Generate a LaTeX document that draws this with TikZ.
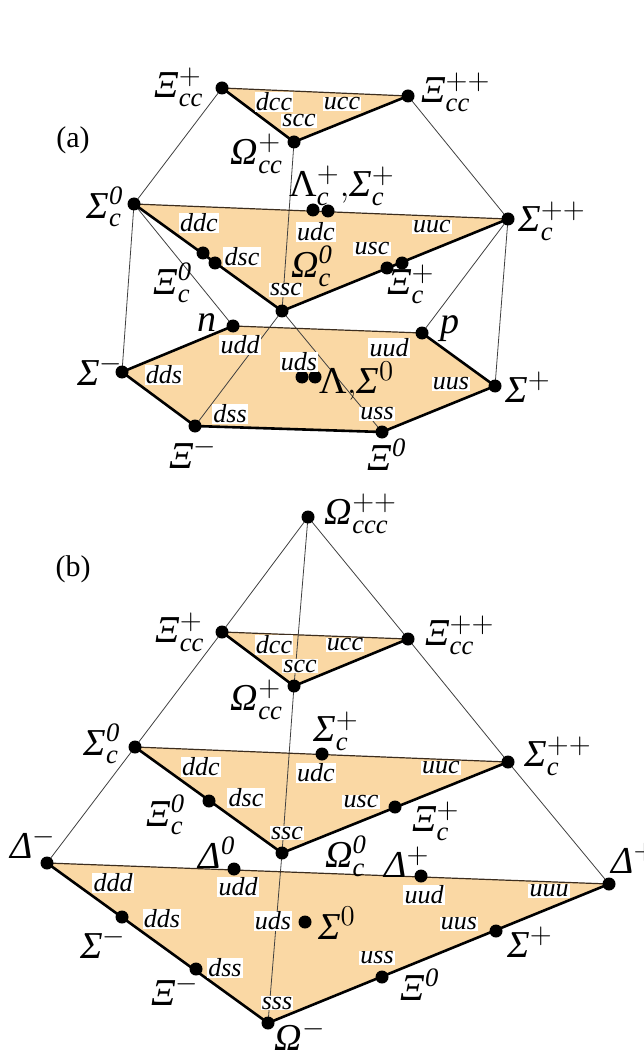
\documentclass[tikz,border=0pt]{standalone}
\usepackage{amsmath}
\usepackage{fontspec}
\setmainfont{Liberation Serif}
\definecolor{facec}{RGB}{250,216,164}
\definecolor{edgec}{RGB}{60,45,30}
\tikzset{
  dot/.style={circle,fill=black,inner sep=0pt,minimum size=6.5pt},
  thinl/.style={line width=0.4pt,draw=black!75},
  topl/.style={line width=0.6pt,draw=edgec},
  thickl/.style={line width=1.3pt,draw=black,line join=round},
  face/.style={fill=facec},
  qlab/.style={fill=white,inner sep=0.6pt,font=\fontsize{13}{14}\selectfont\itshape},
  plab/.style={inner sep=0pt,font=\fontsize{19}{21}\selectfont},
  tag/.style={inner sep=0pt,font=\fontsize{15}{17}\selectfont},
}
\begin{document}
\begin{tikzpicture}[x=0.5pt,y=-0.5pt]
\useasboundingbox (0,0) rectangle (643,1053);
% ---------------- (a) coordinates
\coordinate (a-Xcc1) at (222,88);
\coordinate (a-Xcc2) at (408,96);
\coordinate (a-Occ) at (294,142);
\coordinate (a-Sc0) at (134,204);
\coordinate (a-Sc2) at (508,219);
\coordinate (a-Oc) at (282,311);
\coordinate (a-LcA) at (313,210);
\coordinate (a-LcB) at (328,211);
\coordinate (a-Xc0A) at (203,253);
\coordinate (a-Xc0B) at (215,263);
\coordinate (a-XcpA) at (387,268);
\coordinate (a-XcpB) at (402,263);
\coordinate (a-n) at (233,326);
\coordinate (a-p) at (422,333);
\coordinate (a-Sp) at (495,386);
\coordinate (a-X0) at (382,432);
\coordinate (a-Xm) at (195,426);
\coordinate (a-Sm) at (122,372);
\coordinate (a-LSA) at (302,377);
\coordinate (a-LSB) at (315,377);
% ---------------- (b) coordinates
\coordinate (b-Occc) at (308,517);
\coordinate (b-Xcc1) at (222,632);
\coordinate (b-Xcc2) at (408,639);
\coordinate (b-Occ) at (294,686);
\coordinate (b-Sc0) at (135,747);
\coordinate (b-Sc2) at (508,762);
\coordinate (b-Scp) at (322,754);
\coordinate (b-Oc) at (282,853);
\coordinate (b-Xc0) at (209,801);
\coordinate (b-Xcp) at (395,807);
\coordinate (b-Dm) at (47,863);
\coordinate (b-D0) at (234,869);
\coordinate (b-Dp) at (421,876);
\coordinate (b-Dpp) at (609,884);
\coordinate (b-Sm) at (122,917);
\coordinate (b-Xm) at (196,969);
\coordinate (b-Om) at (268,1023);
\coordinate (b-X0) at (382,977);
\coordinate (b-Sp) at (496,931);
\coordinate (b-S0) at (305,922);
% ---------------- faces
\fill[face] (a-Xcc1) -- (a-Xcc2) -- (a-Occ) -- cycle;
\fill[face] (a-Sc0) -- (a-Sc2) -- (a-Oc) -- cycle;
\fill[face] (a-n) -- (a-p) -- (a-Sp) -- (a-X0) -- (a-Xm) -- (a-Sm) -- cycle;
\fill[face] (b-Xcc1) -- (b-Xcc2) -- (b-Occ) -- cycle;
\fill[face] (b-Sc0) -- (b-Sc2) -- (b-Oc) -- cycle;
\fill[face] (b-Dm) -- (b-Dpp) -- (b-Om) -- cycle;
% ---------------- thin connectors
\draw[thinl] (a-Xcc1) -- (a-Sc0);
\draw[thinl] (a-Xcc2) -- (a-Sc2);
\draw[thinl] (a-Occ) -- (a-Oc);
\draw[thinl] (a-Sc0) -- (a-Sm);
\draw[thinl] (a-Sc0) -- (a-n);
\draw[thinl] (a-Sc2) -- (a-p);
\draw[thinl] (a-Sc2) -- (a-Sp);
\draw[thinl] (a-Oc) -- (a-Xm);
\draw[thinl] (a-Oc) -- (a-X0);
\draw[thinl] (b-Occc) -- (b-Xcc1) -- (b-Sc0) -- (b-Dm);
\draw[thinl] (b-Occc) -- (b-Xcc2) -- (b-Sc2) -- (b-Dpp);
\draw[thinl] (b-Occc) -- (b-Occ) -- (b-Oc) -- (b-Om);
% ---------------- upper edges
\draw[topl] (a-Xcc1) -- (a-Xcc2);
\draw[topl] (a-Sc0) -- (a-Sc2);
\draw[topl] (a-n) -- (a-p);
\draw[topl] (b-Xcc1) -- (b-Xcc2);
\draw[topl] (b-Sc0) -- (b-Sc2);
\draw[topl] (b-Dm) -- (b-Dpp);
% ---------------- thick edges
\draw[thickl] (a-Xcc1) -- (a-Occ) -- (a-Xcc2);
\draw[thickl] (a-Sc0) -- (a-Oc) -- (a-Sc2);
\draw[thickl] (a-n) -- (a-Sm) -- (a-Xm) -- (a-X0) -- (a-Sp) -- (a-p);
\draw[thickl] (b-Xcc1) -- (b-Occ) -- (b-Xcc2);
\draw[thickl] (b-Sc0) -- (b-Oc) -- (b-Sc2);
\draw[thickl] (b-Dm) -- (b-Om) -- (b-Dpp);
% ---------------- dots
\foreach \c in {a-Xcc1,a-Xcc2,a-Occ,a-Sc0,a-Sc2,a-Oc,a-LcA,a-LcB,a-Xc0A,a-Xc0B,
  a-XcpA,a-XcpB,a-n,a-p,a-Sp,a-X0,a-Xm,a-Sm,a-LSA,a-LSB,
  b-Occc,b-Xcc1,b-Xcc2,b-Occ,b-Sc0,b-Sc2,b-Scp,b-Oc,b-Xc0,b-Xcp,
  b-Dm,b-D0,b-Dp,b-Dpp,b-Sm,b-Xm,b-Om,b-X0,b-Sp,b-S0}
  \node[dot] (\c-dot) at (\c) {};
% ---------------- quark labels (a)
\node[qlab] (a-q1) at (274,102) {dcc};
\node[qlab] (a-q2) at (342,104) {ucc};
\node[qlab] (a-q3) at (299,121) {scc};
\node[qlab] (a-q4) at (199,223) {ddc};
\node[qlab] (a-q5) at (316,232) {udc};
\node[qlab] (a-q6) at (432,227) {uuc};
\node[qlab] (a-q7) at (242,257) {dsc};
\node[qlab] (a-q8) at (372,249) {usc};
\node[qlab] (a-q9) at (286,290) {ssc};
\node[qlab] (a-q10) at (240,345) {udd};
\node[qlab] (a-q11) at (389,348) {uud};
\node[qlab] (a-q12) at (164,375) {dds};
\node[qlab] (a-q13) at (299,362) {uds};
\node[qlab] (a-q14) at (451,384) {uus};
\node[qlab] (a-q15) at (230,414) {dss};
\node[qlab] (a-q16) at (377,414) {uss};
% ---------------- quark labels (b)
\node[qlab] (b-q1) at (274,645) {dcc};
\node[qlab] (b-q2) at (345,645) {ucc};
\node[qlab] (b-q3) at (300,666) {scc};
\node[qlab] (b-q4) at (201,767) {ddc};
\node[qlab] (b-q5) at (316,773) {udc};
\node[qlab] (b-q6) at (441,768) {uuc};
\node[qlab] (b-q7) at (246,798) {dsc};
\node[qlab] (b-q8) at (361,802) {usc};
\node[qlab] (b-q9) at (287,833) {ssc};
\node[qlab] (b-q10) at (113,883) {ddd};
\node[qlab] (b-q11) at (238,887) {udd};
\node[qlab] (b-q12) at (424,895) {uud};
\node[qlab] (b-q13) at (549,891) {uuu};
\node[qlab] (b-q14) at (162,919) {dds};
\node[qlab] (b-q15) at (273,921) {uds};
\node[qlab] (b-q16) at (459,924) {uus};
\node[qlab] (b-q17) at (225,968) {dss};
\node[qlab] (b-q18) at (377,958) {uss};
\node[qlab] (b-q19) at (277,1003) {sss};
% ---------------- particle labels (a)
\node[tag] (a-tag) at (73,140) {(a)};
\node[plab] (a-l1) at (179,87) {$\textit{Ξ}^{+}_{\textit{cc}}$};
\node[plab] (a-l2) at (456,92) {$\textit{Ξ}^{++}_{\textit{cc}}$};
\node[plab] (a-l3) at (257,154) {$\textit{Ω}^{+}_{\textit{cc}}$};
\node[plab] (a-l4) at (342,186) {$\textup{Λ}^{+}_{\textit{c}}{,}\textit{Σ}^{+}_{\textit{c}}$};
\node[plab] (a-l5) at (105,207) {$\textit{Σ}^{\textit{0}}_{\textit{c}}$};
\node[plab] (a-l6) at (552,221) {$\textit{Σ}^{++}_{\textit{c}}$};
\node[plab] (a-l7) at (173,283) {$\textit{Ξ}^{\textit{0}}_{\textit{c}}$};
\node[plab] (a-l8) at (312,266) {$\textit{Ω}^{\textit{0}}_{\textit{c}}$};
\node[plab] (a-l9) at (411,284) {$\textit{Ξ}^{+}_{\textit{c}}$};
\node[plab] (a-l10) at (207,323) {\textit{n}};
\node[plab] (a-l11) at (450,329) {\textit{p}};
\node[plab] (a-l12) at (100,370) {$\textit{Σ}^{-}$};
\node[plab] (a-l13) at (528,387) {$\textit{Σ}^{+}$};
\node[plab] (a-l14) at (357,381) {$\textup{Λ}{,}\textit{Σ}^{0}$};
\node[plab] (a-l15) at (193,453) {$\textit{Ξ}^{-}$};
\node[plab] (a-l16) at (387,455) {$\textit{Ξ}^{\textit{0}}$};
% ---------------- particle labels (b)
\node[tag] (b-tag) at (73,569) {(b)};
\node[plab] (b-l1) at (361,514) {$\textit{Ω}^{++}_{\textit{ccc}}$};
\node[plab] (b-l2) at (180,632) {$\textit{Ξ}^{+}_{\textit{cc}}$};
\node[plab] (b-l3) at (460,635) {$\textit{Ξ}^{++}_{\textit{cc}}$};
\node[plab] (b-l4) at (257,700) {$\textit{Ω}^{+}_{\textit{cc}}$};
\node[plab] (b-l5) at (336,731) {$\textit{Σ}^{+}_{\textit{c}}$};
\node[plab] (b-l6) at (102,744) {$\textit{Σ}^{\textit{0}}_{\textit{c}}$};
\node[plab] (b-l7) at (558,756) {$\textit{Σ}^{++}_{\textit{c}}$};
\node[plab] (b-l8) at (166,815) {$\textit{Ξ}^{\textit{0}}_{\textit{c}}$};
\node[plab] (b-l9) at (436,821) {$\textit{Ξ}^{+}_{\textit{c}}$};
\node[plab] (b-l10) at (33,843) {$\textit{Δ}^{-}$};
\node[plab] (b-l11) at (217,853) {$\textit{Δ}^{\textit{0}}$};
\node[plab] (b-l12) at (346,856) {$\textit{Ω}^{\textit{0}}_{\textit{c}}$};
\node[plab] (b-l13) at (407,862) {$\textit{Δ}^{+}$};
\node[plab,anchor=west] (b-l14) at (611,858) {$\textit{Δ}^{++}$};
\node[plab] (b-l15) at (103,943) {$\textit{Σ}^{-}$};
\node[plab] (b-l16) at (337,923) {$\textit{Σ}^{0}$};
\node[plab] (b-l17) at (530,942) {$\textit{Σ}^{+}$};
\node[plab] (b-l18) at (175,990) {$\textit{Ξ}^{-}$};
\node[plab] (b-l19) at (420,985) {$\textit{Ξ}^{\textit{0}}$};
\node[plab] (b-l20) at (300,1035) {$\textit{Ω}^{-}$};
\end{tikzpicture}
\end{document}
